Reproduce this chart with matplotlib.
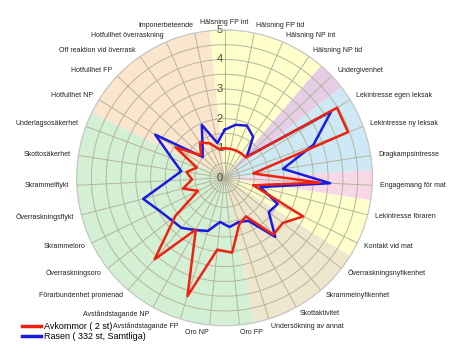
import numpy as np
import matplotlib
matplotlib.use("Agg")
from matplotlib import pyplot as plt

plt.rcParams['font.family'] = ['Liberation Sans', 'DejaVu Sans']

# categories, clockwise from the top
labels = ['Hälsning FP int', 'Hälsning FP tid', 'Hälsning NP int', 'Hälsning NP tid',
          'Undergivenhet', 'Lekintresse egen leksak', 'Lekintresse ny leksak',
          'Dragkampsintresse', 'Engagemang för mat', 'Lekintresse föraren',
          'Kontakt vid mat', 'Överraskningsnyfikenhet', 'Skrammelnyfikenhet',
          'Skottaktivitet', 'Undersökning av annat', 'Oro FP', 'Oro NP',
          'Avståndstagande FP', 'Avståndstagande NP', 'Förarbundenhet promenad',
          'Överraskningsoro', 'Skrammeloro', 'Överraskningsflykt', 'Skrammelflykt',
          'Skottosäkerhet', 'Underlagsosäkerhet', 'Hotfullhet NP', 'Hotfullhet FP',
          'Off reaktion vid överrask', 'Hotfullhet överraskning', 'Imponerbeteende']

avkommor = [1.0, 1.0, 1.0, 1.0, 1.0, 4.48, 4.45, 0.98, 3.2, 1.0,
            2.96, 2.49, 2.53, 1.49, 1.65, 2.54, 2.44, 4.19, 2.0, 3.63,
            2.1, 1.0, 1.45, 1.1, 1.3, 1.0, 1.95, 1.1, 1.45, 1.27, 1.0]
rasen = [1.62, 1.83, 1.92, 1.69, 1.04, 4.25, 3.2, 2.0, 3.57, 1.25,
         2.0, 1.89, 2.63, 1.66, 1.57, 1.67, 1.5, 1.88, 2.02, 2.23,
         2.3, 2.48, 2.84, 1.9, 1.48, 1.9, 2.76, 1.02, 1.3, 1.95, 1.2]

series_names = ['Avkommor ( 2 st)', 'Rasen ( 332 st, Samtliga)']

# background groups: (first index, last index, colour)
groups = [(0, 3, '#ffffcc'), (4, 4, '#e6cde6'), (5, 7, '#cde9f5'), (8, 8, '#f8d8e6'),
          (9, 10, '#ffffcc'), (11, 14, '#eee6cd'), (15, 25, '#d4f0d4'), (26, 30, '#fbe5cd')]

n = len(labels)
step = 2*np.pi/n
ang = np.arange(n)*step

fig = plt.figure(figsize=(4.5, 3.6), dpi=100)
ax = fig.add_axes([0.170, 0.095, 0.658, 0.822], projection='polar')
ax.set_theta_zero_location('N')
ax.set_theta_direction(-1)
ax.set_ylim(0, 5)
ax.grid(False)
ax.set_xticks([])
ax.set_yticks([])
ax.spines['polar'].set_color('#c8c8c8')
ax.spines['polar'].set_linewidth(0.8)

# coloured sectors
for a, b, col in groups:
    start = ang[a] - step/2
    width = (b - a + 1)*step
    ax.bar(start, 5, width=width, bottom=0, align='edge', color=col,
           edgecolor='none', zorder=0)

# grid
tt = np.linspace(0, 2*np.pi, 400)
for r in np.arange(0.5, 5.01, 0.5):
    ax.plot(tt, np.full_like(tt, r), color='#b5b59c', lw=0.7, zorder=1)
for a in ang:
    ax.plot([a, a], [0, 5], color='#b5b59c', lw=0.7, zorder=1)

# value labels sit just left of the vertical axis
for v in range(6):
    ax.annotate(str(v), (0, v), xytext=(-3.3, 0), textcoords='offset points',
                ha='center', va='center', fontsize=8, color='#4a4a3a', zorder=2)

red = np.append(avkommor, avkommor[0])
blue = np.append(rasen, rasen[0])
th = np.append(ang, ang[0])
l1, = ax.plot(th, red, color='#ee2211', lw=1.8, zorder=4)
l2, = ax.plot(th, blue, color='#1a1ae0', lw=1.8, zorder=3)

for a, lab in zip(ang, labels):
    s = np.sin(a)
    if s > 0.08:
        ha = 'left'
    elif s < -0.08:
        ha = 'right'
    else:
        ha = 'center'
    ax.text(a, 5.25, lab, ha=ha, va='center', fontsize=5, color='#202020',
            clip_on=False)

fig.legend([l1, l2], series_names, loc='lower left', bbox_to_anchor=(0.049, 0.052),
           frameon=False, fontsize=6.5, handlelength=2.1, handletextpad=0.3,
           labelspacing=0.12, borderpad=0, borderaxespad=0)
for h in fig.legends[0].legend_handles:
    h.set_linewidth(2.5)

fig.savefig('out.png', dpi=100)
